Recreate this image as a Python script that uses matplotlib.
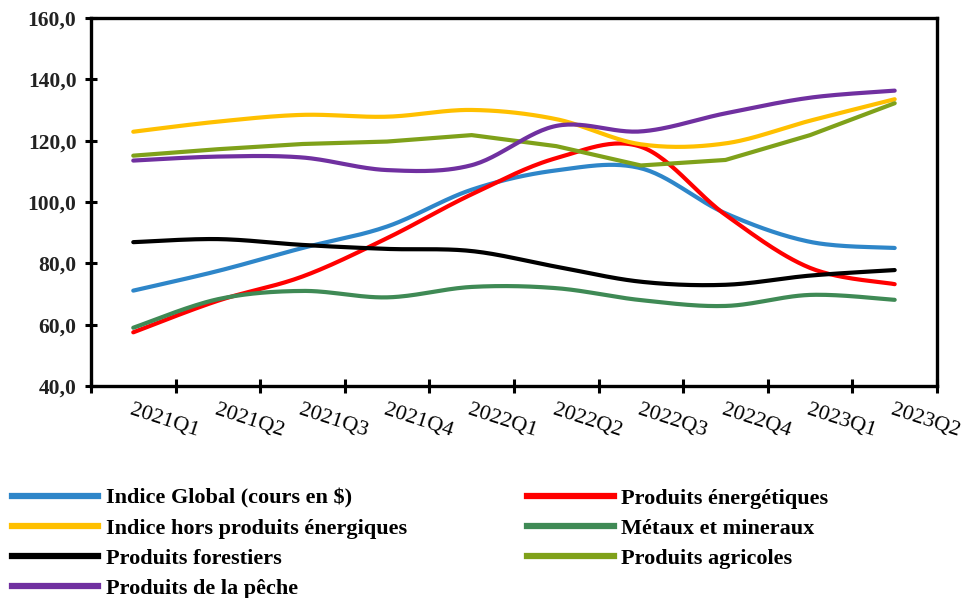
import numpy as np
import matplotlib.pyplot as plt
from matplotlib.lines import Line2D

quarters = ['2021Q1', '2021Q2', '2021Q3', '2021Q4', '2022Q1',
            '2022Q2', '2022Q3', '2022Q4', '2023Q1', '2023Q2']

indice_global = [71.1, 77.5, 85.0, 92.0, 104.0, 110.3, 111.0, 96.3, 87.0, 85.0]
energie = [57.5, 67.8, 75.7, 88.2, 102.5, 114.3, 118.0, 95.8, 78.5, 73.2]
hors_energie = [122.9, 126.2, 128.4, 127.8, 130.0, 127.0, 118.8, 119.1, 126.5, 133.5]
metaux = [59.0, 68.3, 71.0, 68.9, 72.3, 71.9, 68.0, 66.1, 69.7, 68.1]
forestiers = [86.9, 87.9, 86.0, 84.7, 84.0, 78.9, 74.0, 73.0, 76.0, 77.8]
agricoles = [115.1, 117.2, 118.9, 119.7, 121.8, 118.2, 111.9, 113.7, 121.8, 132.2]
peche = [113.5, 114.8, 114.5, 110.4, 112.0, 124.8, 123.0, 128.9, 134.0, 136.3]


def smooth(y, steps=30):
    # cubic bezier through each point, catmull-rom style tangents
    y = np.asarray(y, dtype=float)
    x = np.arange(len(y), dtype=float)
    xs, ys = [], []
    n = len(y)
    for i in range(n - 1):
        a, b = max(i - 1, 0), min(i + 2, n - 1)
        t = np.linspace(0, 1, steps)
        for v, out in ((x, xs), (y, ys)):
            p0, p3 = v[i], v[i + 1]
            c1 = p0 + (v[i + 1] - v[a]) / 6
            c2 = p3 - (v[b] - v[i]) / 6
            out.extend((1 - t) ** 3 * p0 + 3 * (1 - t) ** 2 * t * c1
                       + 3 * (1 - t) * t ** 2 * c2 + t ** 3 * p3)
    return xs, ys


series = [
    ('Indice Global (cours en $)', indice_global, '#2E86C9', True),
    ('Produits énergétiques', energie, '#FF0000', True),
    ('Indice hors produits énergiques', hors_energie, '#FFC000', True),
    ('Métaux et mineraux', metaux, '#3F8A55', True),
    ('Produits forestiers', forestiers, '#000000', True),
    ('Produits agricoles', agricoles, '#7FA11A', False),
    ('Produits de la pêche', peche, '#7030A0', True),
]

fig = plt.figure(figsize=(9.74, 5.98), dpi=100)
ax = fig.add_axes([0.0934, 0.3545, 0.8686, 0.6155])

handles = {}
for name, vals, color, curved in series:
    if curved:
        xs, ys = smooth(vals)
    else:
        xs, ys = np.arange(len(vals)), vals
    ax.plot(xs, ys, color=color, lw=3, solid_capstyle='round')
    handles[name] = Line2D([], [], color=color, lw=4.5)

ax.set_xlim(-0.5, len(quarters) - 0.5)
ax.set_ylim(40, 160)
ax.set_yticks(np.arange(40, 161, 20))
ax.set_yticklabels([f'{v:.1f}'.replace('.', ',') for v in np.arange(40, 161, 20)],
                   fontfamily='Liberation Serif', fontweight='bold', fontsize=15.5,
                   color='#222222')
ax.set_xticks(np.arange(len(quarters)))
ax.set_xticklabels(quarters, rotation=-18, ha='left', va='top', rotation_mode='anchor',
                   fontfamily='Liberation Serif', fontsize=16)
ax.set_xticks(np.arange(-0.5, len(quarters)), minor=True)
ax.tick_params(axis='x', which='major', length=0, pad=11)
ax.tick_params(axis='x', which='minor', direction='inout', length=10, width=2.2)
ax.tick_params(axis='y', direction='inout', length=9, width=2.2, pad=6)
for s in ax.spines.values():
    s.set_linewidth(2.4)

col1 = ['Indice Global (cours en $)', 'Indice hors produits énergiques',
        'Produits forestiers', 'Produits de la pêche']
col2 = ['Produits énergétiques', 'Métaux et mineraux', 'Produits agricoles']
font = {'family': 'Liberation Serif', 'weight': 'bold', 'size': 16}
for names, x0 in ((col1, 0.012), (col2, 0.541)):
    fig.legend([handles[n] for n in names], names, loc='upper left',
               bbox_to_anchor=(x0, 0.184), frameon=False, prop=font,
               handlelength=3.9, handletextpad=0.35, labelspacing=0.43,
               borderaxespad=0, borderpad=0)

fig.savefig('out.png', dpi=100)
